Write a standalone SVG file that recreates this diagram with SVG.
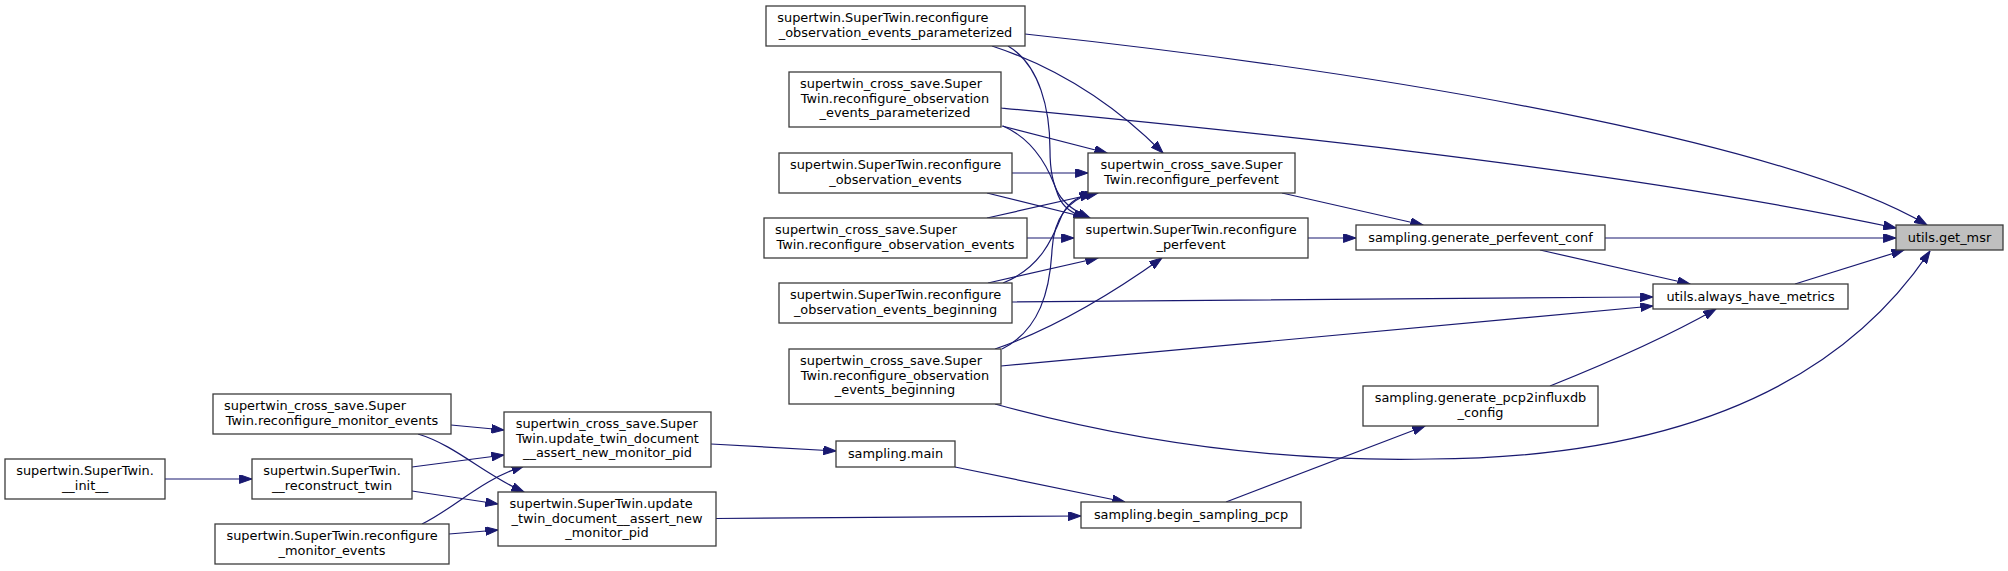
<svg xmlns="http://www.w3.org/2000/svg" width="2008" height="571" viewBox="0 0 2008 571">
<defs>
<marker id="ah" markerWidth="13" markerHeight="9" refX="12.6" refY="4.4" orient="auto" markerUnits="userSpaceOnUse">
<path d="M0,0 L12.6,4.4 L0,8.8 z" fill="#191970" stroke="#191970" stroke-width="1"/>
</marker>
<style>
.n rect{fill:#ffffff;stroke:#3c3c3c;stroke-width:1.3}
.n.root rect{fill:#bfbfbf}
.n text{font-family:"DejaVu Sans","Liberation Sans",sans-serif;font-size:12.9px;fill:#000}
.c{text-anchor:middle}
#edges path{fill:none;stroke:#191970;stroke-width:1.2;marker-end:url(#ah)}
</style>
</defs>
<rect width="2008" height="571" fill="#ffffff"/>
<g id="edges">
<path d="M1025,34 C1450,80 1800,150 1927,225"/>
<path d="M1001,108 C1200,127 1600,165 1896,228"/>
<path d="M1605,238 L1896,238"/>
<path d="M1795,284 L1904,250"/>
<path d="M995,404 C1180,455 1330,461 1430,459 C1650,458 1830,400 1930,251"/>
<path d="M1282,193 L1423,225"/>
<path d="M1308,238 L1356,238"/>
<path d="M1540,250 L1690,284"/>
<path d="M1012,302 C1250,300 1450,298 1653,297"/>
<path d="M1001,366 L1653,306"/>
<path d="M1550,386 C1610,362 1665,338 1716,309"/>
<path d="M992,46 C1050,65 1110,100 1163,153"/>
<path d="M1002,126 L1107,153"/>
<path d="M1012,173 L1088,173"/>
<path d="M987,218 L1098,193"/>
<path d="M1003,283 C1040,268 1052,240 1062,215 C1070,200 1080,196 1094,193"/>
<path d="M1002,349 C1040,330 1050,290 1052,250 C1054,215 1070,200 1092,193"/>
<path d="M1008,46 C1040,65 1050,110 1050,150 C1050,190 1060,205 1090,218"/>
<path d="M1003,126 C1035,140 1050,170 1058,195 C1063,208 1072,213 1086,218"/>
<path d="M987,193 L1088,218"/>
<path d="M1027,238 L1074,238"/>
<path d="M988,283 L1098,258"/>
<path d="M995,349 C1050,330 1110,295 1162,258"/>
<path d="M451,425 L504,430"/>
<path d="M412,467 L504,455"/>
<path d="M422,524 C455,508 480,480 524,466"/>
<path d="M418,434 C455,445 485,475 524,492"/>
<path d="M412,491 L498,504"/>
<path d="M449,534 L498,530"/>
<path d="M165,479 L252,479"/>
<path d="M711,444 L836,451"/>
<path d="M955,467 L1125,502"/>
<path d="M716,518.5 L1081,516"/>
<path d="M1226,502 L1425,426"/>
</g>
<g id="nA" class="n"><rect x="766" y="6" width="259" height="40"/><text x="777.3" y="22">supertwin.SuperTwin.reconfigure</text><text class="c" x="895.5" y="37">_observation_events_parameterized</text></g>
<g id="nB" class="n"><rect x="789" y="72" width="212" height="55"/><text x="800" y="88">supertwin_cross_save.Super</text><text class="c" x="895" y="102.7">Twin.reconfigure_observation</text><text class="c" x="895" y="117.4">_events_parameterized</text></g>
<g id="nC" class="n"><rect x="779" y="153" width="233" height="40"/><text class="c" x="895.5" y="169">supertwin.SuperTwin.reconfigure</text><text class="c" x="895.5" y="184">_observation_events</text></g>
<g id="nD" class="n"><rect x="764" y="218" width="263" height="40"/><text x="775" y="234">supertwin_cross_save.Super</text><text class="c" x="895.5" y="249">Twin.reconfigure_observation_events</text></g>
<g id="nE" class="n"><rect x="779" y="283" width="233" height="40"/><text class="c" x="895.5" y="299">supertwin.SuperTwin.reconfigure</text><text class="c" x="895.5" y="314">_observation_events_beginning</text></g>
<g id="nF" class="n"><rect x="789" y="349" width="212" height="55"/><text x="800" y="365">supertwin_cross_save.Super</text><text class="c" x="895" y="379.7">Twin.reconfigure_observation</text><text class="c" x="895" y="394.4">_events_beginning</text></g>
<g id="nG" class="n"><rect x="1088" y="153" width="207" height="40"/><text class="c" x="1191.5" y="169">supertwin_cross_save.Super</text><text class="c" x="1191.5" y="184">Twin.reconfigure_perfevent</text></g>
<g id="nH" class="n"><rect x="1074" y="218" width="234" height="40"/><text class="c" x="1191" y="234">supertwin.SuperTwin.reconfigure</text><text class="c" x="1191" y="249">_perfevent</text></g>
<g id="nI" class="n"><rect x="1356" y="225" width="249" height="25"/><text class="c" x="1480.5" y="241.5">sampling.generate_perfevent_conf</text></g>
<g id="nJ" class="n root"><rect x="1896" y="225" width="107" height="25"/><text class="c" x="1949.5" y="241.5">utils.get_msr</text></g>
<g id="nK" class="n"><rect x="1653" y="284" width="195" height="25"/><text class="c" x="1750.5" y="300.5">utils.always_have_metrics</text></g>
<g id="nL" class="n"><rect x="1363" y="386" width="235" height="40"/><text class="c" x="1480.5" y="402">sampling.generate_pcp2influxdb</text><text class="c" x="1480.5" y="417">_config</text></g>
<g id="nM" class="n"><rect x="836" y="441" width="119" height="26"/><text class="c" x="895.5" y="458">sampling.main</text></g>
<g id="nN" class="n"><rect x="1081" y="502" width="220" height="26"/><text class="c" x="1191" y="519">sampling.begin_sampling_pcp</text></g>
<g id="nO" class="n"><rect x="213" y="394" width="238" height="40"/><text x="224" y="410">supertwin_cross_save.Super</text><text class="c" x="332" y="425">Twin.reconfigure_monitor_events</text></g>
<g id="nP" class="n"><rect x="504" y="412" width="207" height="55"/><text x="515.7" y="428">supertwin_cross_save.Super</text><text class="c" x="607.5" y="442.7">Twin.update_twin_document</text><text class="c" x="607.5" y="457.4">__assert_new_monitor_pid</text></g>
<g id="nQ" class="n"><rect x="5" y="459" width="160" height="40"/><text class="c" x="85" y="475">supertwin.SuperTwin.</text><text class="c" x="85" y="490">__init__</text></g>
<g id="nR" class="n"><rect x="252" y="459" width="160" height="40"/><text class="c" x="332" y="475">supertwin.SuperTwin.</text><text class="c" x="332" y="490">__reconstruct_twin</text></g>
<g id="nS" class="n"><rect x="498" y="492" width="218" height="54"/><text x="509.6" y="508">supertwin.SuperTwin.update</text><text class="c" x="607" y="522.7">_twin_document__assert_new</text><text class="c" x="607" y="537.4">_monitor_pid</text></g>
<g id="nT" class="n"><rect x="215" y="524" width="234" height="40"/><text class="c" x="332" y="540">supertwin.SuperTwin.reconfigure</text><text class="c" x="332" y="555">_monitor_events</text></g>
</svg>
